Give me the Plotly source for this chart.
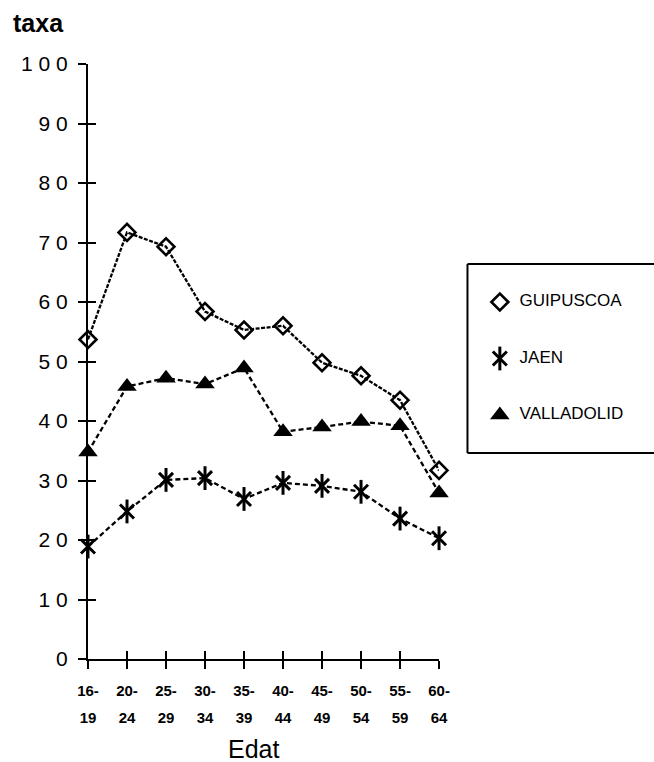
import plotly.graph_objects as go

categories_row1 = ["16-", "20-", "25-", "30-", "35-", "40-", "45-", "50-", "55-", "60-"]
categories_row2 = ["19", "24", "29", "34", "39", "44", "49", "54", "59", "64"]
categories = ["16-19", "20-24", "25-29", "30-34", "35-39", "40-44", "45-49", "50-54", "55-59", "60-64"]

guipuscoa = [53.7, 71.7, 69.3, 58.4, 55.3, 56.0, 49.8, 47.6, 43.5, 31.7]
jaen = [18.9, 24.8, 30.1, 30.4, 26.9, 29.6, 29.1, 28.1, 23.6, 20.3]
valladolid = [34.8, 45.8, 47.2, 46.2, 48.9, 38.2, 39.0, 39.9, 39.2, 27.9]

y_ticks = [0, 10, 20, 30, 40, 50, 60, 70, 80, 90, 100]
y_ticktext = ["0", "1 0", "2 0", "3 0", "4 0", "5 0", "6 0", "7 0", "8 0", "9 0", "1 0 0"]

series_names = ["GUIPUSCOA", "JAEN", "VALLADOLID"]
legend_rows = [0, 1, 2]

FONT = "Liberation Sans, Arial, sans-serif"
xpos = list(range(len(categories)))

W, H = 654, 762
PL, PR, PT, PB = 88, 446, 64, 659          # plot box in pixels
L, T = PL, PT
B = H - PB
AW = W - L                                 # drawable width (right margin 0)
AH = PB - PT

fig = go.Figure()

line_dashes = ["4px,1.5px", "5px,3px", "5px,3px"]
data = [guipuscoa, jaen, valladolid]

for name, vals, dash in zip(series_names, data, line_dashes):
    fig.add_trace(go.Scatter(
        x=xpos, y=vals, mode="lines", name=name, showlegend=False,
        cliponaxis=False, line=dict(color="black", width=2.3, dash=dash),
        hoverinfo="skip"))

# markers
marker_defs = [
    [dict(symbol="diamond-open", size=13, color="black", line=dict(color="black", width=2.6))],
    [dict(symbol="x-thin-open", size=14, color="black", line=dict(color="black", width=3)),
     dict(symbol="line-ns-open", size=17, color="black", line=dict(color="black", width=3))],
    [dict(symbol="triangle-up", size=17, color="black", line=dict(color="black", width=0))],
]
for name, vals, mdefs in zip(series_names, data, marker_defs):
    for m in mdefs:
        fig.add_trace(go.Scatter(x=xpos, y=vals, mode="markers", name=name,
                                 showlegend=False, cliponaxis=False, marker=m))

# legend (drawn on its own axes in the right-hand area)
for row, name, mdefs in zip(legend_rows, series_names, marker_defs):
    for m in mdefs:
        fig.add_trace(go.Scatter(
            x=[0], y=[row], xaxis="x3", yaxis="y3", showlegend=False,
            mode="markers", marker=m, cliponaxis=False, hoverinfo="skip"))
    fig.add_trace(go.Scatter(
        x=[0], y=[row], xaxis="x3", yaxis="y3", showlegend=False,
        mode="markers+text", text=[name], textposition="middle right",
        textfont=dict(size=17, family=FONT, color="black"),
        marker=dict(size=30, opacity=0), cliponaxis=False, hoverinfo="skip"))

# dummy trace for overlay axes (cross ticks)
fig.add_trace(go.Scatter(x=[None], y=[None], xaxis="x2", yaxis="y2",
                         showlegend=False, hoverinfo="skip"))

xdom = [0, (PR - PL) / AW]
leg_left = 475
leg_mx = 508
row_y0, row_dy = 302, 56.5

fig.update_layout(
    width=W, height=H,
    margin=dict(l=L, r=0, t=T, b=B, pad=0),
    paper_bgcolor="white", plot_bgcolor="white",
    font=dict(family=FONT, color="black"),
    showlegend=False,
    hovermode=False,
    xaxis=dict(domain=xdom, range=[0, 9], tickvals=xpos,
               ticktext=["<b>%s</b>" % t for t in categories_row1],
               showgrid=False, zeroline=False, showline=True, linecolor="black",
               linewidth=2, ticks="outside", ticklen=8, tickwidth=2,
               tickcolor="black", tickfont=dict(size=15, family=FONT),
               ticklabelstandoff=9),
    xaxis2=dict(domain=xdom, range=[0, 9], overlaying="x", anchor="y2", side="bottom",
                tickvals=xpos, ticktext=["<b>%s</b>" % t for t in categories_row2],
                showgrid=False, zeroline=False, showline=False,
                ticks="inside", ticklen=8, tickwidth=2, tickcolor="black",
                tickfont=dict(size=15, family=FONT), ticklabelstandoff=48),
    yaxis=dict(range=[0, 100], tickvals=y_ticks, ticktext=y_ticktext,
               showgrid=False, zeroline=False, showline=True, linecolor="black",
               linewidth=2, ticks="outside", ticklen=8, tickwidth=2,
               tickcolor="black", tickfont=dict(size=21, family=FONT),
               ticklabelstandoff=6),
    yaxis2=dict(range=[0, 100], overlaying="y", anchor="x2", side="left",
                tickvals=y_ticks, showticklabels=False,
                showgrid=False, zeroline=False, showline=False,
                ticks="inside", ticklen=8, tickwidth=2, tickcolor="black"),
    xaxis3=dict(domain=[(leg_left - PL) / AW, 1], anchor="y3",
                range=[-(leg_mx - leg_left), W - leg_mx], visible=False),
    yaxis3=dict(domain=[0, 1], anchor="x3",
                range=[(PB - row_y0) / row_dy, (PT - row_y0) / row_dy], visible=False),
)

# legend frame (open on the right, where it runs off the page)
lx0 = (leg_left - PL) / AW
lx1 = 1.2
ly0 = (PB - 453) / AH
ly1 = (PB - 264) / AH
for (xa, ya, xb, yb) in [(lx0, ly1, lx1, ly1), (lx0, ly0, lx0, ly1), (lx0, ly0, lx1, ly0)]:
    fig.add_shape(type="line", xref="paper", yref="paper", x0=xa, y0=ya, x1=xb, y1=yb,
                  line=dict(color="black", width=2))

fig.add_annotation(text="<b>taxa</b>", xref="paper", yref="paper",
                   x=(9 - PL) / AW, y=(PB - 23) / AH, xanchor="left", yanchor="middle",
                   showarrow=False, font=dict(size=25, family=FONT))
fig.add_annotation(text="Edat", xref="paper", yref="paper",
                   x=(257 - PL) / AW, y=(PB - 749) / AH, xanchor="center", yanchor="middle",
                   showarrow=False, font=dict(size=25, family=FONT))

fig.write_html("out.html", config={"displayModeBar": False, "staticPlot": True},
               post_script="document.body.style.margin='0';"
                           "document.body.style.overflow='hidden';")
